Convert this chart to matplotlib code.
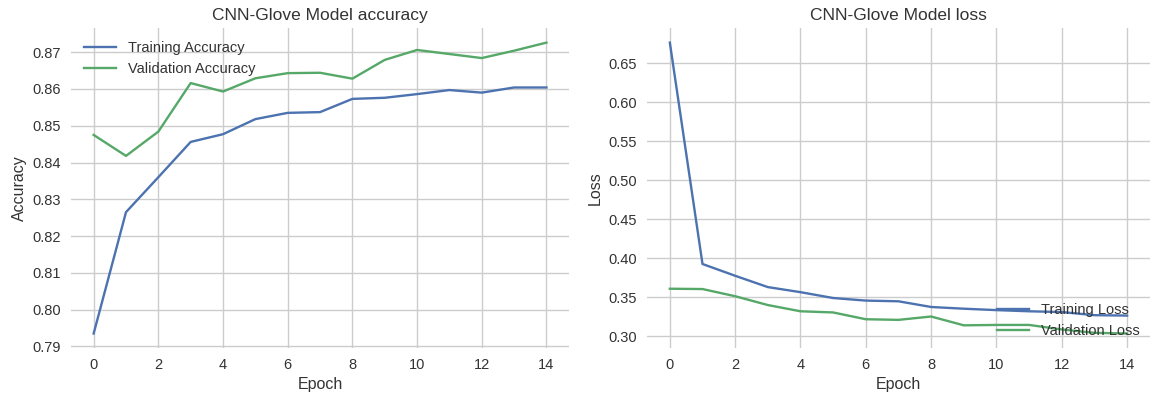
import matplotlib
matplotlib.use('Agg')
import matplotlib.pyplot as plt

# Training history of the CNN-Glove model, one value per epoch
epochs = list(range(15))
train_acc = [0.7935, 0.8265, 0.8360, 0.8456, 0.8477, 0.8518, 0.8535, 0.8537,
             0.8573, 0.8576, 0.8586, 0.8597, 0.8590, 0.8604, 0.8604]
val_acc = [0.8475, 0.8418, 0.8484, 0.8616, 0.8593, 0.8629, 0.8643, 0.8644,
           0.8628, 0.8679, 0.8706, 0.8695, 0.8684, 0.8704, 0.8726]
train_loss = [0.6763, 0.3926, 0.3775, 0.3630, 0.3565, 0.3490, 0.3457, 0.3448,
              0.3375, 0.3353, 0.3335, 0.3320, 0.3310, 0.3270, 0.3265]
val_loss = [0.3609, 0.3605, 0.3513, 0.3400, 0.3320, 0.3305, 0.3218, 0.3210,
            0.3253, 0.3140, 0.3145, 0.3145, 0.3087, 0.3044, 0.3035]

BLUE = '#4C72B0'
GREEN = '#55A868'
TEXT = '#333333'

plt.rcParams.update({
    'font.family': ['Liberation Sans', 'DejaVu Sans'],
    'font.size': 10.5,
    'text.color': TEXT,
    'axes.labelcolor': TEXT,
    'xtick.color': TEXT,
    'ytick.color': TEXT,
    'axes.facecolor': 'white',
    'axes.edgecolor': 'white',
    'axes.grid': True,
    'grid.color': '#cccccc',
    'grid.linewidth': 1.0,
    'xtick.major.size': 0,
    'ytick.major.size': 0,
    'xtick.major.pad': 7,
    'ytick.major.pad': 7,
    'legend.handlelength': 2.2,
})

fig = plt.figure(figsize=(11.51, 4.01), dpi=100)
ax1 = fig.add_axes([0.0617, 0.132, 0.4327, 0.798])
ax2 = fig.add_axes([0.5621, 0.132, 0.437, 0.798])

ax1.plot(epochs, train_acc, color=BLUE, lw=1.7, label='Training Accuracy')
ax1.plot(epochs, val_acc, color=GREEN, lw=1.7, label='Validation Accuracy')
ax1.set_title('CNN-Glove Model accuracy', fontsize=12.5)
ax1.set_xlabel('Epoch', fontsize=11.5)
ax1.set_ylabel('Accuracy', fontsize=11.5)
ax1.legend(loc='upper left', frameon=False, fontsize=10.5)

ax2.plot(epochs, train_loss, color=BLUE, lw=1.7, label='Training Loss')
ax2.plot(epochs, val_loss, color=GREEN, lw=1.7, label='Validation Loss')
ax2.set_title('CNN-Glove Model loss', fontsize=12.5)
ax2.set_xlabel('Epoch', fontsize=11.5)
ax2.set_ylabel('Loss', fontsize=11.5)
ax2.legend(loc='lower right', frameon=False, fontsize=10.5,
           bbox_to_anchor=(1.005, -0.01))

for ax in (ax1, ax2):
    ax.set_xticks(range(0, 15, 2))
    for s in ax.spines.values():
        s.set_visible(False)

ax1.set_yticks([0.79, 0.80, 0.81, 0.82, 0.83, 0.84, 0.85, 0.86, 0.87])
ax2.set_yticks([0.30, 0.35, 0.40, 0.45, 0.50, 0.55, 0.60, 0.65])

fig.savefig('out.png', dpi=100)
